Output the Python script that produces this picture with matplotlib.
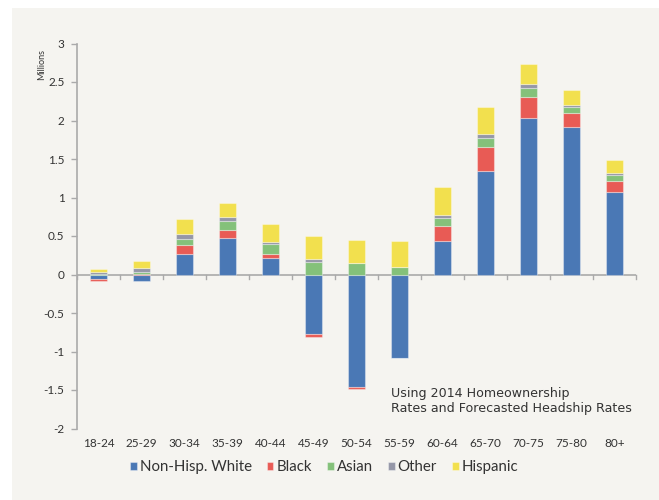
import matplotlib.pyplot as plt
import numpy as np
from matplotlib.patches import Rectangle

plt.rcParams['font.family'] = ['Lato', 'DejaVu Sans']

# Data (millions)
age_groups = ["18-24", "25-29", "30-34", "35-39", "40-44", "45-49", "50-54",
              "55-59", "60-64", "65-70", "70-75", "75-80", "80+"]
white = [-0.06, -0.09, 0.27, 0.48, 0.22, -0.77, -1.46, -1.08, 0.44, 1.34, 2.03, 1.91, 1.07]
black = [-0.02, 0.01, 0.11, 0.10, 0.05, -0.04, -0.03, -0.01, 0.19, 0.31, 0.27, 0.19, 0.14]
asian = [0.01, 0.02, 0.08, 0.12, 0.12, 0.16, 0.15, 0.10, 0.11, 0.125, 0.12, 0.075, 0.08]
other = [0.02, 0.05, 0.07, 0.05, 0.03, 0.035, 0.0, 0.0, 0.035, 0.045, 0.05, 0.03, 0.025]
hispanic = [0.038, 0.10, 0.19, 0.18, 0.23, 0.30, 0.30, 0.33, 0.36, 0.36, 0.26, 0.19, 0.17]

series = [("Non-Hisp. White", white, "#4a78b5"),
          ("Black", black, "#e85b55"),
          ("Asian", asian, "#84c17a"),
          ("Other", other, "#9597a8"),
          ("Hispanic", hispanic, "#f2e04e")]

panel = "#f5f4f0"
axis_gray = "#aaaaaa"
text_col = "#333333"

fig = plt.figure(figsize=(6.59, 5), dpi=100)
fig.patch.set_facecolor("white")
fig.patches.append(Rectangle((12 / 659, 0), 1, 1 - 8 / 500, transform=fig.transFigure,
                             facecolor=panel, edgecolor="none", zorder=-10))

ax = fig.add_axes([77 / 659, 1 - 428.5 / 500, (636 - 77) / 659, (428.5 - 43.5) / 500])
ax.set_facecolor("none")

x = np.arange(len(age_groups))
pos_bottom = np.zeros(len(x))
neg_bottom = np.zeros(len(x))
for name, vals, col in series:
    vals = np.array(vals)
    bottom = np.where(vals >= 0, pos_bottom, neg_bottom)
    ax.bar(x, vals, bottom=bottom, width=0.4, color=col, edgecolor=(1, 1, 1, 0.35),
           linewidth=0.8, label=name, zorder=3)
    pos_bottom += np.where(vals >= 0, vals, 0)
    neg_bottom += np.where(vals < 0, vals, 0)

ax.set_xlim(-0.5, len(x) - 0.5)
ax.set_ylim(-2, 3)
ax.set_yticks(np.arange(-2, 3.01, 0.5))
ax.set_yticklabels(["-2", "-1.5", "-1", "-0.5", "0", "0.5", "1", "1.5", "2", "2.5", "3"])

# zero line and category boundary ticks
ax.axhline(0, color=axis_gray, linewidth=1.2, zorder=2)
for b in np.arange(-0.5, len(x), 1.0):
    ax.plot([b, b], [0, -0.055], color=axis_gray, linewidth=1.0, zorder=2, clip_on=False)

ax.set_xticks(x)
ax.set_xticklabels(age_groups)
ax.tick_params(axis="x", length=0, pad=7, labelsize=8.5, labelcolor=text_col)
ax.tick_params(axis="y", length=4, width=1, color=axis_gray, labelsize=8.5,
               labelcolor=text_col, pad=5)

for s in ["top", "right", "bottom"]:
    ax.spines[s].set_visible(False)
ax.spines["left"].set_color(axis_gray)
ax.spines["left"].set_linewidth(1.2)

fig.text(42 / 659, 1 - 65 / 500, "Millions", rotation=90, ha="center", va="center",
         fontsize=6.5, color=text_col)

ax.text(391 / 659, 1 - 401 / 500, "Using 2014 Homeownership\nRates and Forecasted Headship Rates",
        transform=fig.transFigure, ha="left", va="center", fontsize=9.1,
        family="DejaVu Sans", color=text_col, linespacing=1.15)

leg = fig.legend(loc="center", bbox_to_anchor=(324 / 659, 1 - 467 / 500), ncol=5,
                 frameon=False, fontsize=10.8, handlelength=0.45, handleheight=0.45,
                 handletextpad=0.2, columnspacing=1.0, labelcolor=text_col)

fig.savefig("out.png", dpi=100, facecolor=fig.get_facecolor())
